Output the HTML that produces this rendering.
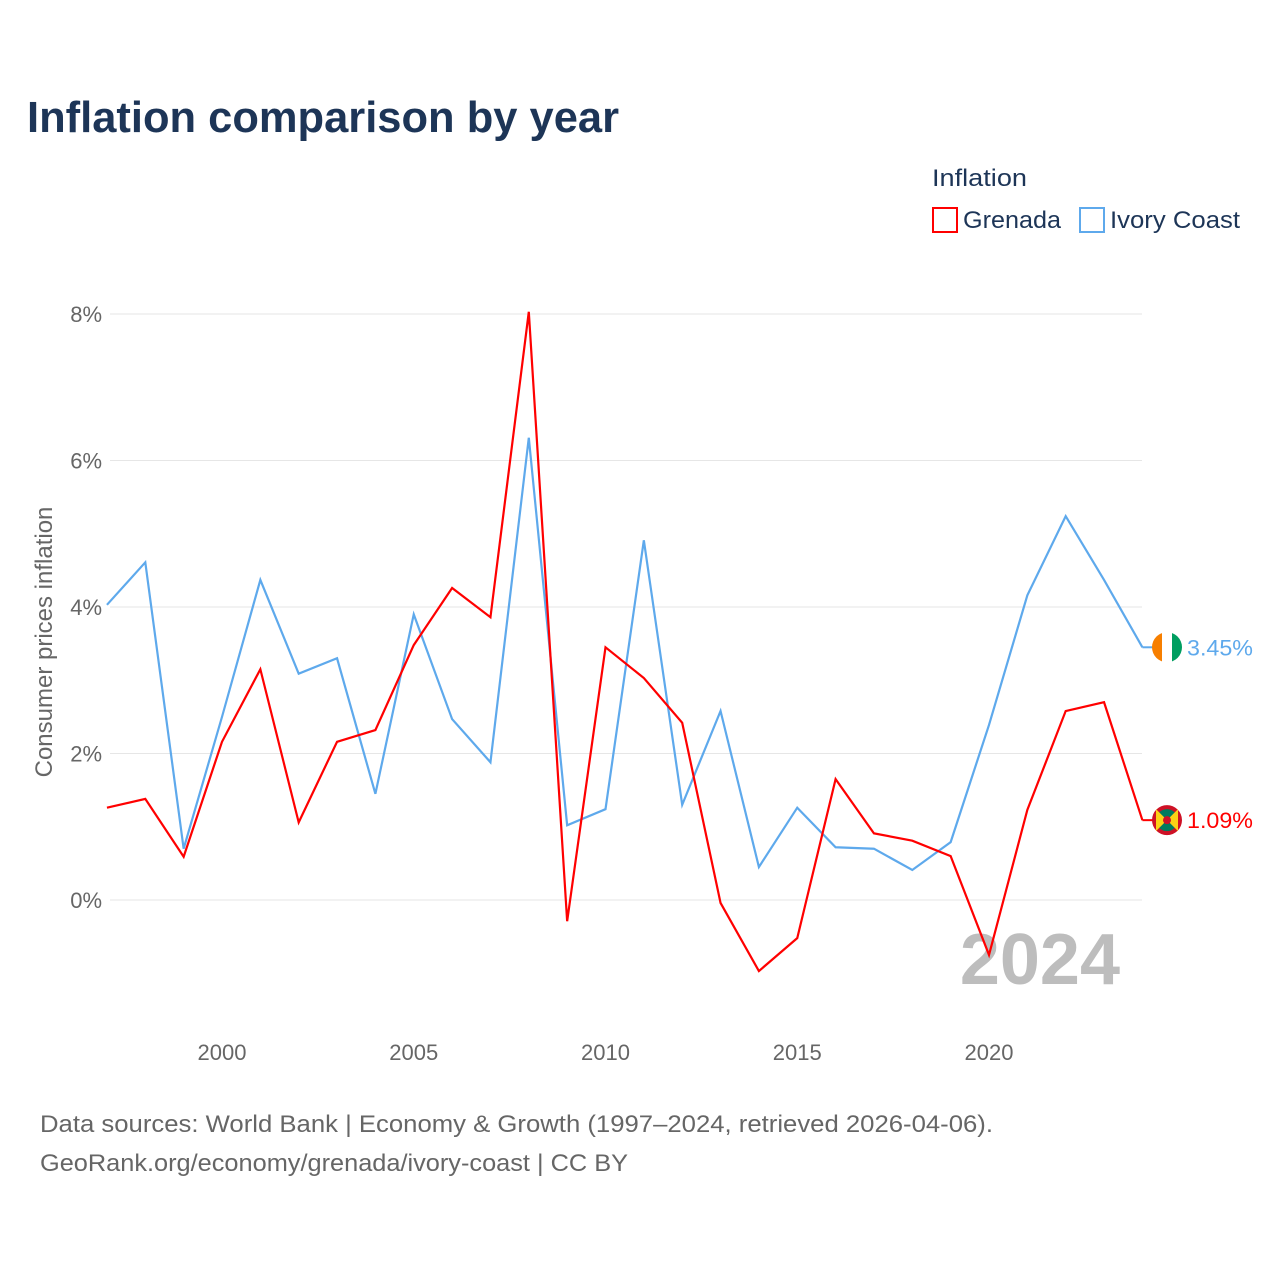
<!DOCTYPE html>
<html><head><meta charset="utf-8">
<style>
body{margin:0;background:#fff;font-family:"Liberation Sans",sans-serif;}
svg text{font-family:"Liberation Sans",sans-serif;}
</style></head>
<body>
<svg width="1280" height="1280" viewBox="0 0 1280 1280">
<text x="27" y="132" font-size="44" font-weight="bold" fill="#1d3557" textLength="592" lengthAdjust="spacingAndGlyphs">Inflation comparison by year</text>
<text x="932" y="186" font-size="24" fill="#1d3557" textLength="95" lengthAdjust="spacingAndGlyphs">Inflation</text>
<g><rect x="933" y="208" width="24" height="24" fill="none" stroke="#ff0000" stroke-width="2"/><text x="963" y="228" font-size="24" fill="#1d3557" textLength="98" lengthAdjust="spacingAndGlyphs">Grenada</text></g>
<g><rect x="1080" y="208" width="24" height="24" fill="none" stroke="#5ea9ec" stroke-width="2"/><text x="1110" y="228" font-size="24" fill="#1d3557" textLength="130" lengthAdjust="spacingAndGlyphs">Ivory Coast</text></g>
<g id="grid"></g>
<text x="1120" y="984" font-size="72" font-weight="bold" fill="#bdbdbd" text-anchor="end">2024</text>
<text transform="translate(52,642) rotate(-90)" font-size="24" fill="#666" text-anchor="middle">Consumer prices inflation</text>
<g id="series"></g>
<text x="40" y="1132" font-size="24" fill="#666" textLength="953" lengthAdjust="spacingAndGlyphs">Data sources: World Bank | Economy &amp; Growth (1997–2024, retrieved 2026-04-06).</text>
<text x="40" y="1171" font-size="24" fill="#666" textLength="588" lengthAdjust="spacingAndGlyphs">GeoRank.org/economy/grenada/ivory-coast | CC BY</text>
</svg>
<script>
const years=[1997,1998,1999,2000,2001,2002,2003,2004,2005,2006,2007,2008,2009,2010,2011,2012,2013,2014,2015,2016,2017,2018,2019,2020,2021,2022,2023,2024];
const grenada=[1.26,1.38,0.59,2.16,3.15,1.06,2.16,2.32,3.48,4.26,3.86,8.03,-0.29,3.45,3.03,2.42,-0.04,-0.97,-0.52,1.65,0.91,0.81,0.60,-0.75,1.23,2.58,2.70,1.09];
const ivory=[4.03,4.61,0.70,2.50,4.37,3.09,3.30,1.45,3.90,2.47,1.88,6.31,1.02,1.24,4.91,1.30,2.58,0.45,1.26,0.72,0.70,0.41,0.79,2.39,4.16,5.24,4.37,3.45];
const yTicks=[0,2,4,6,8];
const xTicks=[2000,2005,2010,2015,2020];
const NS="http://www.w3.org/2000/svg";
const xs=y=>222+(y-2000)*38.35;
const ys=v=>900-v*73.25;
const grid=document.getElementById('grid');
function mk(tag,attrs,parent){const e=document.createElementNS(NS,tag);for(const k in attrs)e.setAttribute(k,attrs[k]);parent.appendChild(e);return e;}
yTicks.forEach(t=>{
  const l=mk('line',{x1:110,x2:1142,y1:ys(t),y2:ys(t),stroke:'#e6e6e6','stroke-width':1},grid);
  
  
  const tx=mk('text',{x:102,y:ys(t)+8,'font-size':22,fill:'#666','text-anchor':'end'},grid);
  tx.textContent=t+'%';
  
  
});
xTicks.forEach(t=>{
  const tx=mk('text',{x:xs(t),y:1060,'font-size':22,fill:'#666','text-anchor':'middle'},grid);
  tx.textContent=t;
  
  
});
const ser=document.getElementById('series');
function line(vals,color,name){
  const p=mk('polyline',{points:vals.map((v,i)=>xs(years[i])+','+ys(v)).join(' '),fill:'none',stroke:color,'stroke-width':2.2,'stroke-linejoin':'miter'},ser);
  
  
  const last=vals[vals.length-1];const lx=xs(years[years.length-1]);
  mk('line',{x1:lx,x2:lx+12,y1:ys(last),y2:ys(last),stroke:color,'stroke-width':2},ser);
  const t=mk('text',{x:1187,y:ys(last)+8,'font-size':22,fill:color,textLength:66,lengthAdjust:'spacingAndGlyphs'},ser);
  t.textContent=last.toFixed(2)+'%';
  
  
  return ys(last);
}
const yI=line(ivory,'#5ea9ec','ivory-coast');
const yG=line(grenada,'#ff0000','grenada');
const fi=mk('g',{},ser);


mk('clipPath',{id:'cI'},fi).appendChild(document.createElementNS(NS,'circle'));
fi.querySelector('circle').setAttribute('cx',1167);fi.querySelector('circle').setAttribute('cy',yI);fi.querySelector('circle').setAttribute('r',15);
const gI=mk('g',{'clip-path':'url(#cI)'},fi);
mk('rect',{x:1152,y:yI-15,width:10,height:30,fill:'#f77f00'},gI);
mk('rect',{x:1162,y:yI-15,width:10,height:30,fill:'#fff'},gI);
mk('rect',{x:1172,y:yI-15,width:10,height:30,fill:'#009e60'},gI);
const fg=mk('g',{},ser);


mk('circle',{cx:1167,cy:yG,r:15,fill:'#ce1126'},fg);
mk('circle',{cx:1167,cy:yG,r:11,fill:'#007a5e'},fg);
mk('polygon',{points:`1156,${yG-11} 1178,${yG+11} 1178,${yG-11} 1156,${yG+11}`,fill:'#fcd116'},fg);
mk('circle',{cx:1167,cy:yG,r:4,fill:'#ce1126'},fg);
</script>
</body></html>
